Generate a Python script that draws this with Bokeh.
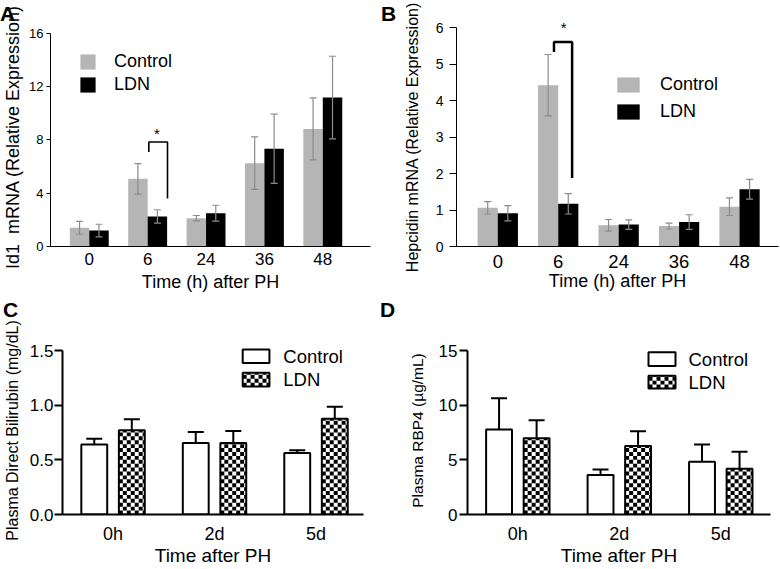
import numpy as np
from bokeh.plotting import figure
from bokeh.models import (ColumnDataSource, Whisker, TeeHead, Legend, LegendItem,
                          FixedTicker, Label, NumeralTickFormatter, Range1d)
from bokeh.layouts import column, row
from bokeh.core.properties import value
from bokeh.embed import file_html
from bokeh.resources import INLINE

FONT = "Liberation Sans"

# ---------------- data ----------------
hours = ["0", "6", "24", "36", "48"]
id1_control = [1.40, 5.08, 2.13, 6.26, 8.83]
id1_control_err = [0.48, 1.14, 0.20, 1.97, 2.33]
id1_ldn = [1.20, 2.26, 2.50, 7.34, 11.19]
id1_ldn_err = [0.47, 0.50, 0.60, 2.60, 3.10]

hep_control = [1.06, 4.42, 0.58, 0.56, 1.09]
hep_control_err = [0.17, 0.84, 0.16, 0.08, 0.24]
hep_ldn = [0.91, 1.17, 0.60, 0.67, 1.57]
hep_ldn_err = [0.21, 0.28, 0.13, 0.20, 0.27]

times = ["0h", "2d", "5d"]
bili_control = [0.642, 0.656, 0.564]
bili_control_err = [0.052, 0.100, 0.026]
bili_ldn = [0.772, 0.656, 0.878]
bili_ldn_err = [0.100, 0.110, 0.110]

rbp4_control = [7.80, 3.63, 4.84]
rbp4_control_err = [2.85, 0.49, 1.58]
rbp4_ldn = [7.00, 6.28, 4.20]
rbp4_ldn_err = [1.64, 1.35, 1.56]

# significance brackets (x in group units, y in data units)
sig_a_x = [1.02, 1.02, 1.34, 1.34]
sig_a_y = [7.09, 7.85, 7.85, 3.60]
sig_a_star = (1.157, 8.52)
sig_b_x = [0.93, 0.93, 1.23, 1.23]
sig_b_y = [5.33, 5.60, 5.60, 1.88]
sig_b_star = (1.09, 6.011)

HT, HB = 297, 271
WL, WR = 396, 383
CELL = 4  # checker cell, px


def base_fig(width, height, x_range, y_range, left, right, top, bottom):
    p = figure(width=width, height=height, x_range=x_range, y_range=y_range,
               output_backend="svg", toolbar_location=None, tools="",
               min_border_left=left, min_border_right=right,
               min_border_top=top, min_border_bottom=bottom)
    p.xgrid.grid_line_color = None
    p.ygrid.grid_line_color = None
    p.outline_line_color = None
    p.background_fill_color = "white"
    p.border_fill_color = "white"
    return p


def frame_of(p, width, height):
    return dict(left=p.min_border_left, right=width - p.min_border_right,
                top=p.min_border_top, bottom=height - p.min_border_bottom)


def to_data(p, fr, px, py):
    xr, yr = p.x_range, p.y_range
    sx = (fr["right"] - fr["left"]) / (xr.end - xr.start)
    sy = (fr["bottom"] - fr["top"]) / (yr.end - yr.start)
    return xr.start + (px - fr["left"]) / sx, yr.start + (fr["bottom"] - py) / sy


def style_axes(p, labels, yticks, lw, ytick_size, xtick_size, xlabel, xlabel_size,
               ylabel, ylabel_size, ytick_out, ystd, ylab_std, xstd, xlab_std, yfmt=None):
    xa = p.xaxis[0]
    ya = p.yaxis[0]
    for ax in (xa, ya):
        ax.axis_line_color = "black"
        ax.axis_line_width = lw
        ax.major_tick_line_color = "black"
        ax.major_tick_line_width = lw
        ax.minor_tick_line_color = None
        ax.major_tick_in = 0
        ax.major_label_text_font = FONT
        ax.major_label_text_color = "black"
        ax.axis_label_text_font = FONT
        ax.axis_label_text_font_style = "normal"
        ax.axis_label_text_color = "black"
    xa.ticker = FixedTicker(ticks=list(range(len(labels))))
    xa.major_label_overrides = {i: s for i, s in enumerate(labels)}
    xa.major_tick_out = 0
    xa.major_label_text_font_size = xtick_size
    xa.axis_label = xlabel
    xa.axis_label_text_font_size = xlabel_size
    xa.major_label_standoff = xstd
    xa.axis_label_standoff = xlab_std
    ya.ticker = FixedTicker(ticks=yticks)
    ya.major_tick_out = ytick_out
    ya.major_label_text_font_size = ytick_size
    ya.axis_label = ylabel
    ya.axis_label_text_font_size = ylabel_size
    ya.major_label_standoff = ystd
    ya.axis_label_standoff = ylab_std
    if yfmt is not None:
        ya.formatter = yfmt


def place_legend(p, fr, renderers, names, glyph_left, text_x, text_cy, pitch,
                 vis_w, vis_h, font_px):
    gw = round(vis_w)
    gh = round(vis_h / 0.8)
    row_h = max(gh, 1.15 * font_px)
    spacing = round(pitch - row_h)
    height = 2 * row_h + spacing
    top = text_cy - row_h / 2
    box_left = glyph_left - 0.1 * gw
    standoff = round(text_x - (box_left + gw))
    vx = round(box_left - fr["left"])
    vy = round(fr["bottom"] - (top + height))
    leg = Legend(items=[LegendItem(label=n, renderers=[r]) for n, r in zip(names, renderers)],
                 location=(vx, vy), orientation="vertical", padding=0, margin=0,
                 spacing=spacing, glyph_width=gw, glyph_height=gh, label_height=gh,
                 label_standoff=standoff, border_line_color=None,
                 background_fill_alpha=0, label_text_font=FONT,
                 label_text_font_size=f"{font_px}px", label_text_color="black")
    p.add_layout(leg)


def expr_bars(p, ctrl, ctrl_err, ldn, ldn_err, err_color, cap):
    idx = np.arange(len(hours), dtype=float)
    off, w = 1 / 6, 1 / 3
    rs = []
    for vals, errs, sign, color in ((ctrl, ctrl_err, -1, "#b5b5b5"), (ldn, ldn_err, 1, "black")):
        v = np.array(vals)
        e = np.array(errs)
        src = ColumnDataSource(dict(x=idx + sign * off, top=v, upper=v + e, lower=v - e))
        r = p.vbar(x="x", top="top", width=w, source=src, fill_color=color, line_color=None)
        wh = Whisker(source=src, base="x", upper="upper", lower="lower",
                     line_color=err_color, line_width=1.2,
                     upper_head=TeeHead(size=cap, line_color=err_color, line_width=1.2),
                     lower_head=TeeHead(size=cap, line_color=err_color, line_width=1.2))
        wh.level = "overlay"
        p.add_layout(wh)
        rs.append(r)
    return rs


def checker_cells(lefts, rights, bottoms, tops, dx, dy):
    L, R, B, T = [], [], [], []
    for l0, r0, b0, t0 in zip(lefts, rights, bottoms, tops):
        nc = int(np.ceil((r0 - l0) / dx - 1e-9))
        nr = int(np.ceil((t0 - b0) / dy - 1e-9))
        for i in range(nc):
            for j in range(nr):
                if (i + j) % 2 == 0:
                    L.append(l0 + i * dx)
                    R.append(min(l0 + (i + 1) * dx, r0))
                    B.append(b0 + j * dy)
                    T.append(min(b0 + (j + 1) * dy, t0))
    return dict(left=L, right=R, bottom=B, top=T)


def plasma_panel(p, fr, ctrl, ctrl_err, ldn, ldn_err, legend_pos):
    idx = np.arange(len(times), dtype=float)
    off, w = 0.185, 0.255
    xr, yr = p.x_range, p.y_range
    dx = CELL * (xr.end - xr.start) / (fr["right"] - fr["left"])
    dy = CELL * (yr.end - yr.start) / (fr["bottom"] - fr["top"])
    for vals, errs, sign, hatched in ((ctrl, ctrl_err, -1, False), (ldn, ldn_err, 1, True)):
        v = np.array(vals)
        e = np.array(errs)
        src = ColumnDataSource(dict(x=idx + sign * off, top=v, upper=v + e, lower=v))
        wh = Whisker(source=src, base="x", upper="upper", lower="lower",
                     line_color="black", line_width=2,
                     upper_head=TeeHead(size=16, line_color="black", line_width=2),
                     lower_head=None)
        wh.level = "underlay"
        p.add_layout(wh)
        p.vbar(x="x", top="top", width=w, source=src, fill_color="white", line_color=None)
        if hatched:
            xs = idx + sign * off
            cells = checker_cells(xs - w / 2, xs + w / 2, np.zeros_like(v), v, dx, dy)
            p.quad(source=ColumnDataSource(cells), left="left", right="right",
                   bottom="bottom", top="top", fill_color="black", line_color=None)
        p.vbar(x="x", top="top", width=w, source=src, fill_color=None,
               line_color="black", line_width=2)

    # legend (swatches + labels), positioned in pixels of this figure
    gx0, gx1, rows, text_x, font = legend_pos
    names = ["Control", "LDN"]
    sw = dict(left=[], right=[], bottom=[], top=[])
    tx, ty = [], []
    for (y0, y1) in rows:
        l_, t_ = to_data(p, fr, gx0, y0)
        r_, b_ = to_data(p, fr, gx1, y1)
        sw["left"].append(l_); sw["right"].append(r_)
        sw["bottom"].append(b_); sw["top"].append(t_)
        xt, yt = to_data(p, fr, text_x, (y0 + y1) / 2)
        tx.append(xt); ty.append(yt)
    p.quad(left=sw["left"], right=sw["right"], bottom=sw["bottom"], top=sw["top"],
           fill_color="white", line_color=None)
    cells = checker_cells(sw["left"][1:], sw["right"][1:], sw["bottom"][1:], sw["top"][1:],
                          dx, dy)
    p.quad(source=ColumnDataSource(cells), left="left", right="right", bottom="bottom",
           top="top", fill_color="black", line_color=None)
    p.quad(left=sw["left"], right=sw["right"], bottom=sw["bottom"], top=sw["top"],
           fill_color=None, line_color="black", line_width=2)
    p.text(x=tx, y=ty, text=names, text_font=value(FONT), text_font_size=f"{font}px",
           text_align="left", text_baseline="middle", text_color="black")


def side_label(p, text, x, y, side, size="21px", bold=True, units="canvas"):
    p.add_layout(Label(x=x, y=y, x_units=units, y_units=units, text=text,
                       text_font=FONT, text_font_size=size,
                       text_font_style="bold" if bold else "normal",
                       text_align="center", text_baseline="middle", text_color="black"), side)


# ---------------- panel A ----------------
pA = base_fig(WL, HT, Range1d(-0.664, 4.817), Range1d(0, 16.45), 48, 26, 27, 51)
frA = frame_of(pA, WL, HT)
rA = expr_bars(pA, id1_control, id1_control_err, id1_ldn, id1_ldn_err, "#8c8c8c", 7)
pA.line(sig_a_x, sig_a_y, line_color="black", line_width=1.6)
pA.text(x=[sig_a_star[0]], y=[sig_a_star[1]], text=["*"], text_font=value(FONT),
        text_font_size="15px", text_align="center", text_baseline="middle", text_color="black")
style_axes(pA, hours, [0, 4, 8, 12, 16], 1, "13px", "17px", "Time (h) after PH", "18px",
           "Id1\u00a0 mRNA (Relative Expression)", "18px", 4, 3, 3, 6, 4)
pA.yaxis[0].bounds = (0, 16)
place_legend(pA, frA, rA, ["Control", "LDN"], 78, 112, 60 + 2, 23, 19, 15, 18)
side_label(pA, "A", 7, 12.5, "above")
side_label(pA, "B", 388, 12.5, "right")

# ---------------- panel B ----------------
pB = base_fig(WR, HT, Range1d(-0.683, 4.645), Range1d(0, 6), 60, 1, 27, 51)
frB = frame_of(pB, WR, HT)
rB = expr_bars(pB, hep_control, hep_control_err, hep_ldn, hep_ldn_err, "#8c8c8c", 7)
pB.line(sig_b_x, sig_b_y, line_color="black", line_width=2.5)
side_label(pB, "*", sig_b_star[0], sig_b_star[1], "above", size="15px", bold=False,
           units="data")
style_axes(pB, hours, [0, 1, 2, 3, 4, 5, 6], 1, "14px", "18.5px", "Time (h) after PH", "18px",
           "Hepcidin mRNA (Relative Expression)", "16px", 7, 6, 12, 8, 0)
place_legend(pB, frB, rB, ["Control", "LDN"], 617 - WL, 660 - WL, 83 + 2, 27, 28, 15, 18)

# ---------------- panel C ----------------
pC = base_fig(WL, HB, Range1d(-0.498, 2.468), Range1d(0, 1.54), 59, 33, 49, 50)
frC = frame_of(pC, WL, HB)
style_axes(pC, times, [0, 0.5, 1.0, 1.5], 2, "17px", "18px", "Time after PH", "19px",
           "Plasma Direct Bilirubin (mg/dL)", "16px", 8, 1, 6, 9, -2,
           yfmt=NumeralTickFormatter(format="0.0"))
pC.yaxis[0].bounds = (0, 1.5)
plasma_panel(pC, frC, bili_control, bili_control_err, bili_ldn, bili_ldn_err,
             (241, 268, [(349 - HT, 363 - HT), (373 - HT, 387 - HT)], 282, 18.5))
side_label(pC, "C", 10, 309 - HT, "above")
side_label(pC, "D", 387, 309 - HT, "right")

# ---------------- panel D ----------------
pD = base_fig(WR, HB, Range1d(-0.496, 2.49), Range1d(0, 15.4), 71, 9, 49, 50)
frD = frame_of(pD, WR, HB)
style_axes(pD, times, [0, 5, 10, 15], 2, "17px", "18px", "Time after PH", "19px",
           "Plasma RBP4 (\u00b5g/mL)", "15.5px", 8, 2, 10, 9, -2)
pD.yaxis[0].bounds = (0, 15)
plasma_panel(pD, frD, rbp4_control, rbp4_control_err, rbp4_ldn, rbp4_ldn_err,
             (648 - WL, 675 - WL, [(352 - HT, 366 - HT), (376 - HT, 389 - HT)], 688 - WL, 18.5))

layout = column(row(pA, pB), row(pC, pD))
open("out.html", "w").write(file_html(layout, INLINE))
